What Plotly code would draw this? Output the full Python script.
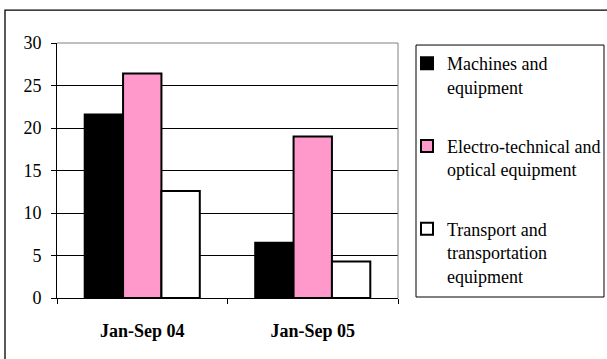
import plotly.graph_objects as go

# Periods on the x axis
periods = ["Jan-Sep 04", "Jan-Sep 05"]

# Series values per period
machines = [21.6, 6.5]
electro_optical = [26.4, 19.0]
transport = [12.6, 4.3]

# Legend labels
series_names = [
    "Machines and<br>equipment",
    "Electro-technical and<br>optical equipment",
    "Transport and<br>transportation<br>equipment",
]

# y axis ticks
y_ticks = [0, 5, 10, 15, 20, 25, 30]

FONT = "Liberation Serif"
W, H = 607, 359
L, R, T, B = 57, 209, 43, 61

fig = go.Figure()
series = [
    (machines, "#000000", series_names[0]),
    (electro_optical, "#FF99CC", series_names[1]),
    (transport, "#FFFFFF", series_names[2]),
]
for i, (vals, color, name) in enumerate(series):
    fig.add_trace(go.Bar(
        x=periods, y=vals, name=name,
        legendgroup=f"g{i}",
        marker=dict(color=color, line=dict(color="#000000", width=2)),
    ))

fig.update_layout(
    width=W, height=H,
    margin=dict(l=L, r=R, t=T, b=B, autoexpand=False),
    paper_bgcolor="white", plot_bgcolor="white",
    barmode="group", bargap=0.325, bargroupgap=0,
    font=dict(family=FONT, size=18, color="black"),
    showlegend=True,
    legend=dict(
        xref="container", yref="container",
        x=407 / W, xanchor="left", y=1 - 45 / H, yanchor="top",
        borderwidth=0, bgcolor="rgba(0,0,0,0)",
        font=dict(family=FONT, size=18, color="black"),
        traceorder="grouped", tracegroupgap=33,
        valign="top", itemsizing="constant",
        maxheight=400,
    ),
    xaxis=dict(
        showline=True, linecolor="black", linewidth=1,
        ticks="outside", tickson="boundaries", ticklen=5, tickcolor="black",
        showgrid=False,
        tickfont=dict(family=FONT, size=18, color="black", weight="bold"),
        ticklabelstandoff=16,
    ),
    yaxis=dict(
        range=[0, 30], tickvals=y_ticks,
        showline=True, linecolor="black", linewidth=1,
        ticks="outside", ticklen=5, tickcolor="black",
        showgrid=True, gridcolor="black", gridwidth=1,
        zeroline=False,
        tickfont=dict(family=FONT, size=18, color="black"),
        ticklabelstandoff=6,
    ),
    shapes=[
        # grey frame on top and right of the plotting area
        dict(type="path", xref="paper", yref="paper",
             path="M 0,1 L 1,1 L 1,0", line=dict(color="#808080", width=1)),
        # outer chart frame (left and top edges)
        dict(type="path", xref="paper", yref="paper",
             path="M -0.1525,-0.5 L -0.1525,1.129 L 1.8,1.129",
             line=dict(color="black", width=1.3)),
        # legend frame
        dict(type="rect", xref="paper", yref="paper",
             x0=1.0528, x1=1.6041, y0=0.0039, y1=0.992,
             line=dict(color="black", width=1), layer="below"),
    ],
)

fig.write_html("out.html")
